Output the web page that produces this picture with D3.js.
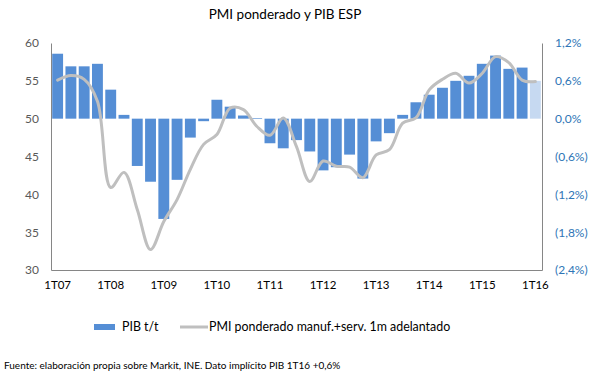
<!DOCTYPE html>
<html><head><meta charset="utf-8">
<script src="https://cdn.jsdelivr.net/npm/d3@7"></script>
<style>body{margin:0;background:#fff}svg{display:block;font-family:Lato,"Open Sans",sans-serif}</style>
</head><body>
<svg id="c" width="605" height="378"></svg>
<script>
const quarters = ["1T07","2T07","3T07","4T07","1T08","2T08","3T08","4T08","1T09","2T09","3T09","4T09",
"1T10","2T10","3T10","4T10","1T11","2T11","3T11","4T11","1T12","2T12","3T12","4T12",
"1T13","2T13","3T13","4T13","1T14","2T14","3T14","4T14","1T15","2T15","3T15","4T15","1T16"];
const pib = [1.03,0.83,0.83,0.87,0.46,0.06,-0.75,-1.00,-1.59,-0.97,-0.30,-0.04,
0.30,0.19,0.05,0.01,-0.39,-0.47,-0.34,-0.52,-0.82,-0.77,-0.57,-0.95,
-0.36,-0.23,0.06,0.26,0.38,0.49,0.60,0.68,0.87,1.00,0.79,0.81,0.60];
const pmi = [55.1,55.7,55.2,52.3,40.9,42.9,38.0,32.7,36.4,39.3,43.3,46.6,
47.9,51.4,51.2,49.0,47.8,50.1,46.3,41.7,44.4,43.7,43.6,42.2,
45.2,45.9,49.4,50.1,53.8,55.2,56.0,54.7,56.0,58.2,57.4,55.1,54.9];
const leftTicks = [30,35,40,45,50,55,60];
const rightTicks = [-2.4,-1.8,-1.2,-0.6,0,0.6,1.2];
const xLabels = ["1T07","1T08","1T09","1T10","1T11","1T12","1T13","1T14","1T15","1T16"];

const svg = d3.select("#c");
const L = 51, R = 542, T = 43, B = 270;
const x = d3.scaleBand().domain(quarters).range([L, R]).paddingInner(0.18).paddingOuter(0.09);
const yL = d3.scaleLinear().domain([30,60]).range([B,T]);
const yR = d3.scaleLinear().domain([-2.4,1.2]).range([B,T]);

svg.append("text").attr("x",285).attr("y",19).attr("text-anchor","middle")
  .attr("font-size",13.5).attr("fill","#000").text("PMI ponderado y PIB ESP");

// bars
svg.append("g").selectAll("rect").data(quarters).join("rect")
  .attr("x", d => x(d)).attr("width", x.bandwidth())
  .attr("y", (d,i) => yR(Math.max(0,pib[i])))
  .attr("height", (d,i) => Math.abs(yR(pib[i]) - yR(0)))
  .attr("fill", (d,i) => i === quarters.length-1 ? "#c6d9f1" : "#558ed5");

// line
const cx = d => x(d) + x.bandwidth()/2;
const line = d3.line().x((d,i) => cx(quarters[i])).y(d => yL(d)).curve(d3.curveCatmullRom.alpha(0.5));
svg.append("path").datum(pmi).attr("d", line).attr("fill","none")
  .attr("stroke","#bfbfbf").attr("stroke-width",3).attr("stroke-linecap","round");

// axes
const axL = svg.append("g").attr("transform",`translate(${L},0)`)
  .call(d3.axisLeft(yL).tickValues(leftTicks).tickSize(0).tickPadding(12));
axL.select(".domain").attr("stroke","#868686");
axL.selectAll("text").attr("font-size",12).attr("fill","#595959").attr("font-family","Lato,sans-serif");

const fmtR = v => { const s = Math.abs(v).toFixed(1).replace(".",",") + "%"; return v < 0 ? "(" + s + ")" : s; };
const axR = svg.append("g").attr("transform",`translate(${R},0)`)
  .call(d3.axisRight(yR).tickValues(rightTicks).tickFormat(fmtR).tickSize(0).tickPadding(13));
axR.select(".domain").attr("stroke","#868686");
axR.selectAll("text").attr("font-size",12).attr("fill","#2e75b6").attr("font-family","Lato,sans-serif");

const axB = svg.append("g").attr("transform",`translate(0,${B})`)
  .call(d3.axisBottom(x).tickValues(xLabels).tickSize(0).tickPadding(11));
axB.select(".domain").attr("stroke","#868686");
axB.selectAll("text").attr("font-size",11.5).attr("fill","#000").attr("font-family","Lato,sans-serif");

// legend
svg.append("rect").attr("x",94).attr("y",324).attr("width",21).attr("height",6).attr("fill","#558ed5");
svg.append("text").attr("x",122).attr("y",331).attr("font-size",12.4).attr("fill","#000").text("PIB t/t");
svg.append("line").attr("x1",180).attr("x2",208).attr("y1",327).attr("y2",327).attr("stroke","#bfbfbf").attr("stroke-width",3);
svg.append("text").attr("x",209).attr("y",331).attr("font-size",12.4).attr("fill","#000").text("PMI ponderado manuf.+serv. 1m adelantado");

svg.append("text").attr("x",4).attr("y",369).attr("font-size",10).attr("fill","#000")
  .text("Fuente: elaboración propia sobre Markit, INE. Dato implícito PIB 1T16 +0,6%");
</script>
</body></html>
